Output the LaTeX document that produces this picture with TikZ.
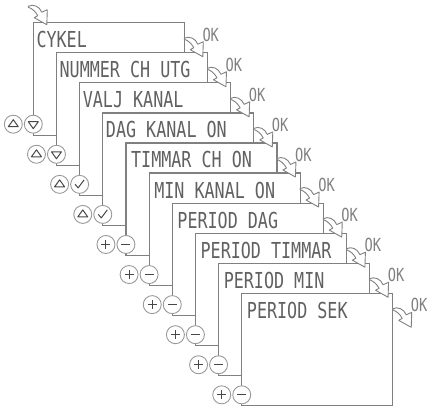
\documentclass[tikz,border=0pt]{standalone}
\usepackage{fontspec}
\usepackage{tikz}
\usetikzlibrary{positioning}
\newfontfamily\lcdfont[FakeStretch=0.76]{DejaVu Sans Mono}
\tikzset{
  panel/.style={rectangle, draw=black!50, fill=white, line width=1.2pt,
    minimum width=151pt, minimum height=112.5pt, inner sep=0pt, outer sep=0pt},
  lcd/.style={font=\lcdfont\fontsize{22}{22}\selectfont, text=black!62, inner sep=0pt, anchor=base west},
  oktext/.style={font=\lcdfont\fontsize{18}{18}\selectfont, text=black!50, inner sep=0pt, anchor=base west},
  sym/.style={draw=black!72, line width=1pt, line join=round},
  btn/.style={circle, draw=black!40, fill=white, line width=0.9pt, minimum size=18pt, inner sep=0pt},
  upkey/.style={btn, path picture={\draw[sym] ([shift={(-5,2.5)}]path picture bounding box.center) -- ++(10,0) -- ++(-5,-7) -- cycle;}},
  downkey/.style={btn, path picture={\draw[sym] ([shift={(-5,-2.5)}]path picture bounding box.center) -- ++(10,0) -- ++(-5,7) -- cycle;}},
  checkkey/.style={btn, path picture={\draw[sym] ([shift={(-4.5,0)}]path picture bounding box.center) -- ++(3,3.5) -- ++(6,-8);}},
  pluskey/.style={btn, path picture={\draw[sym] ([shift={(-4.5,0)}]path picture bounding box.center) -- ++(9,0) ([shift={(0,-4.5)}]path picture bounding box.center) -- ++(0,9);}},
  minuskey/.style={btn, path picture={\draw[sym] ([shift={(-4.5,0)}]path picture bounding box.center) -- ++(9,0);}},
  okarrow/.pic={\draw[black!50, fill=white, line width=0.9pt, line join=round]
    (0,0) .. controls (5,-2.5) and (11,0) .. (13.5,6) -- (19,3.5) -- (18.5,18.5)
    -- (6,11.5) -- (9.5,9.5) .. controls (7,5) and (4,2.5) .. (0,1) -- cycle;}
}
\begin{document}
\begin{tikzpicture}[x=1pt, y=-1pt]
    \useasboundingbox (0,0) rectangle (432,407);

    % Panel 1
    \node[panel, anchor=north west] (p1) at (33.3,22.7) {};
    \node[lcd] (t1) at ([shift={(3,25)}]p1.north west) {CYKEL};
    \node[upkey] (ua1) at ([shift={(-20,-11)}]p1.south west) {};
    \node[downkey] (ub1) at ([shift={(0,-11)}]p1.south west) {};

    % Panel 2
    \node[panel, below right=30.07pt and 23.16pt of p1.north west] (p2) {};
    \node[lcd] (t2) at ([shift={(3,25)}]p2.north west) {NUMMER CH UTG};
    \node[upkey] (ua2) at ([shift={(-20,-11)}]p2.south west) {};
    \node[downkey] (ub2) at ([shift={(0,-11)}]p2.south west) {};

    % Panel 3
    \node[panel, below right=30.07pt and 23.16pt of p2.north west] (p3) {};
    \node[lcd] (t3) at ([shift={(3,25)}]p3.north west) {VALJ KANAL};
    \node[upkey] (ua3) at ([shift={(-20,-11)}]p3.south west) {};
    \node[checkkey] (ub3) at ([shift={(0,-11)}]p3.south west) {};

    % Panel 4
    \node[panel, below right=30.07pt and 23.16pt of p3.north west] (p4) {};
    \node[lcd] (t4) at ([shift={(3,25)}]p4.north west) {DAG KANAL ON};
    \node[upkey] (ua4) at ([shift={(-20,-11)}]p4.south west) {};
    \node[checkkey] (ub4) at ([shift={(0,-11)}]p4.south west) {};

    % Panel 5
    \node[panel, below right=30.07pt and 23.16pt of p4.north west] (p5) {};
    \node[lcd] (t5) at ([shift={(5,25)}]p5.north west) {TIMMAR CH ON};
    \node[pluskey] (ua5) at ([shift={(-20,-11)}]p5.south west) {};
    \node[minuskey] (ub5) at ([shift={(0,-11)}]p5.south west) {};

    % Panel 6
    \node[panel, below right=30.07pt and 23.16pt of p5.north west] (p6) {};
    \node[lcd] (t6) at ([shift={(5,25)}]p6.north west) {MIN KANAL ON};
    \node[pluskey] (ua6) at ([shift={(-20,-11)}]p6.south west) {};
    \node[minuskey] (ub6) at ([shift={(0,-11)}]p6.south west) {};

    % Panel 7
    \node[panel, below right=30.07pt and 23.16pt of p6.north west] (p7) {};
    \node[lcd] (t7) at ([shift={(5,25)}]p7.north west) {PERIOD DAG};
    \node[pluskey] (ua7) at ([shift={(-20,-11)}]p7.south west) {};
    \node[minuskey] (ub7) at ([shift={(0,-11)}]p7.south west) {};

    % Panel 8
    \node[panel, below right=30.07pt and 23.16pt of p7.north west] (p8) {};
    \node[lcd] (t8) at ([shift={(5,25)}]p8.north west) {PERIOD TIMMAR};
    \node[pluskey] (ua8) at ([shift={(-20,-11)}]p8.south west) {};
    \node[minuskey] (ub8) at ([shift={(0,-11)}]p8.south west) {};

    % Panel 9
    \node[panel, below right=30.07pt and 23.16pt of p8.north west] (p9) {};
    \node[lcd] (t9) at ([shift={(5,25)}]p9.north west) {PERIOD MIN};
    \node[pluskey] (ua9) at ([shift={(-20,-11)}]p9.south west) {};
    \node[minuskey] (ub9) at ([shift={(0,-11)}]p9.south west) {};

    % Panel 10
    \node[panel, below right=30.07pt and 23.16pt of p9.north west] (p10) {};
    \node[lcd] (t10) at ([shift={(5,25)}]p10.north west) {PERIOD SEK};
    \node[pluskey] (ua10) at ([shift={(-20,-11)}]p10.south west) {};
    \node[minuskey] (ub10) at ([shift={(0,-11)}]p10.south west) {};

    % Entry arrow
    \pic at ([shift={(-5,-16.5)}]p1.north west) {okarrow};

    % OK arrows to the next panel
    \pic at ([shift={(0,15.5)}]p1.north east) {okarrow};
    \node[oktext] (ok1) at ([shift={(18,18.5)}]p1.north east) {OK};
    \pic at ([shift={(0,15.5)}]p2.north east) {okarrow};
    \node[oktext] (ok2) at ([shift={(18,18.5)}]p2.north east) {OK};
    \pic at ([shift={(0,15.5)}]p3.north east) {okarrow};
    \node[oktext] (ok3) at ([shift={(18,18.5)}]p3.north east) {OK};
    \pic at ([shift={(0,15.5)}]p4.north east) {okarrow};
    \node[oktext] (ok4) at ([shift={(18,18.5)}]p4.north east) {OK};
    \pic at ([shift={(0,15.5)}]p5.north east) {okarrow};
    \node[oktext] (ok5) at ([shift={(18,18.5)}]p5.north east) {OK};
    \pic at ([shift={(0,15.5)}]p6.north east) {okarrow};
    \node[oktext] (ok6) at ([shift={(18,18.5)}]p6.north east) {OK};
    \pic at ([shift={(0,15.5)}]p7.north east) {okarrow};
    \node[oktext] (ok7) at ([shift={(18,18.5)}]p7.north east) {OK};
    \pic at ([shift={(0,15.5)}]p8.north east) {okarrow};
    \node[oktext] (ok8) at ([shift={(18,18.5)}]p8.north east) {OK};
    \pic at ([shift={(0,15.5)}]p9.north east) {okarrow};
    \node[oktext] (ok9) at ([shift={(18,18.5)}]p9.north east) {OK};
    \pic at ([shift={(0,15.5)}]p10.north east) {okarrow};
    \node[oktext] (ok10) at ([shift={(18,18.5)}]p10.north east) {OK};
\end{tikzpicture}
\end{document}
